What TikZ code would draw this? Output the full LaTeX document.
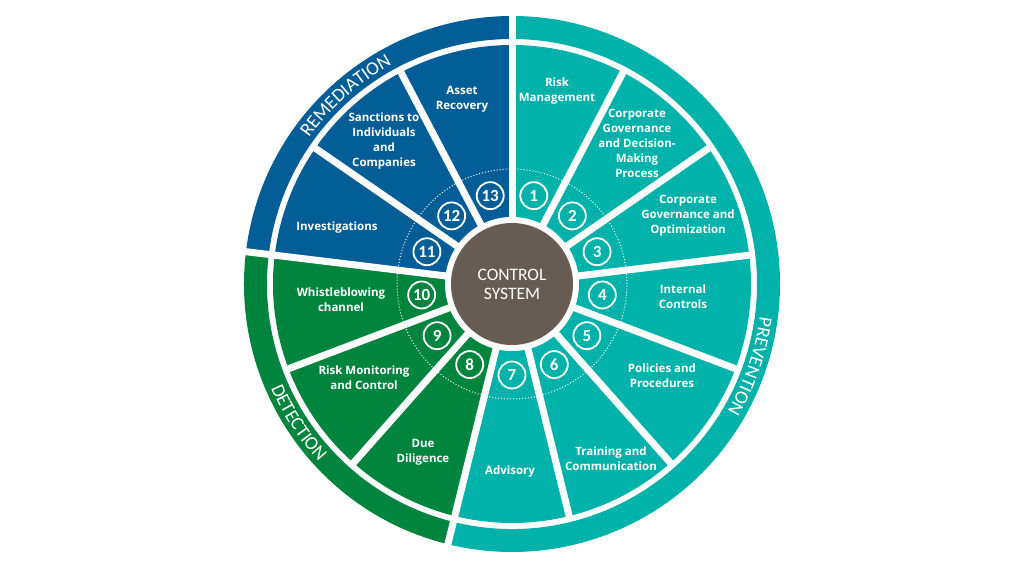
\documentclass[tikz,border=0pt]{standalone}
\usepackage{fontspec}
\setmainfont{Open Sans}
\newfontfamily\ringfont{Carlito}
\usepackage{tikz}
\usetikzlibrary{decorations.text}
\definecolor{wheelprev}{RGB}{0,178,169}
\definecolor{wheeldet}{RGB}{0,132,62}
\definecolor{wheelrem}{RGB}{3,94,152}
\definecolor{wheelcore}{RGB}{102,92,83}

\begin{document}
\begin{tikzpicture}[x=1pt,y=1pt]
    \tikzset{seg/.style={font=\bfseries\fontsize{11.5}{15}\selectfont,text=white,align=center,inner sep=0pt},
      num/.style={circle,draw=white,line width=1.8pt,minimum size=27pt,inner sep=0pt,text=white,font=\ringfont\bfseries\fontsize{17}{17}\selectfont},
      ringtxt/.style={decorate,decoration={text along path,text align=center,text color=white,text={|\ringfont\fontsize{19}{19}\selectfont|#1}}}}
    \useasboundingbox (-512,-286) rectangle (512,284);
    % outer ring
    \foreach \a/\b/\col in {90/-103.846/wheelprev,-103.846/-186.923/wheeldet,173.077/90/wheelrem}{
      \fill[\col] (\a:268) arc[start angle=\a,end angle=\b,radius=268] -- (\b:245) arc[start angle=\b,end angle=\a,radius=245] -- cycle;
    }
    \foreach \k in {0,7,10}{ \draw[white,line width=7pt] ({90-\k*27.6923}:240) -- ({90-\k*27.6923}:272); }
    % segments
    \foreach \k in {1,...,13}{
      \pgfmathsetmacro\a{90-(\k-1)*27.6923}
      \pgfmathsetmacro\b{\a-27.6923}
      \ifnum\k<8 \def\col{wheelprev}\else\ifnum\k<11 \def\col{wheeldet}\else\def\col{wheelrem}\fi\fi
      \fill[\col] (0,0) -- (\a:239) arc[start angle=\a,end angle=\b,radius=239] -- cycle;
    }
    \draw[white,dotted,line width=1pt] (0,0) circle[radius=115];
    \foreach \k in {0,...,12}{ \draw[white,line width=7pt] (0,0) -- ({90-\k*27.6923}:241); }
    % centre
    \fill[white] (0,0) circle[radius=67];
    \node[circle,fill=wheelcore,minimum size=122pt,inner sep=0pt,text=white,align=center,font=\ringfont\fontsize{17.5}{19}\selectfont] (core) at (0,0) {CONTROL\\SYSTEM};
    \foreach \k in {1,...,13}{ \node[num] (n\k) at ({90-(\k-0.5)*27.6923}:91) {\k}; }
    % labels
    \node[seg] (risk) at (45,193) {Risk\\Management};
    \node[seg] (govdec) at (125,141) {Corporate\\Governance\\and Decision-\\Making\\Process};
    \node[seg] (govopt) at (176,68) {Corporate\\Governance and\\Optimization};
    \node[seg] (intctl) at (171,-13) {Internal\\Controls};
    \node[seg] (policy) at (150,-92) {Policies and\\Procedures};
    \node[seg] (train) at (99,-175) {Training and\\Communication};
    \node[seg] (advis) at (-2,-188) {Advisory};
    \node[seg] (duedil) at (-89,-168) {Due\\Diligence};
    \node[seg] (riskmon) at (-148,-94) {Risk Monitoring\\and Control};
    \node[seg] (whistle) at (-171,-16) {Whistleblowing\\channel};
    \node[seg] (invest) at (-175,56) {Investigations};
    \node[seg] (sanct) at (-128,143) {Sanctions to\\Individuals\\and\\Companies};
    \node[seg] (asset) at (-50,185) {Asset\\Recovery};
    % ring titles
    \path[ringtxt=REMEDIATION] (165:250) arc[start angle=165,end angle=98,radius=250];
    \path[ringtxt=PREVENTION] (15:250) arc[start angle=15,end angle=-53,radius=250];
    \path[ringtxt=DETECTION] (180:262.5) arc[start angle=180,end angle=246,radius=262.5];
  \end{tikzpicture}
\end{document}
